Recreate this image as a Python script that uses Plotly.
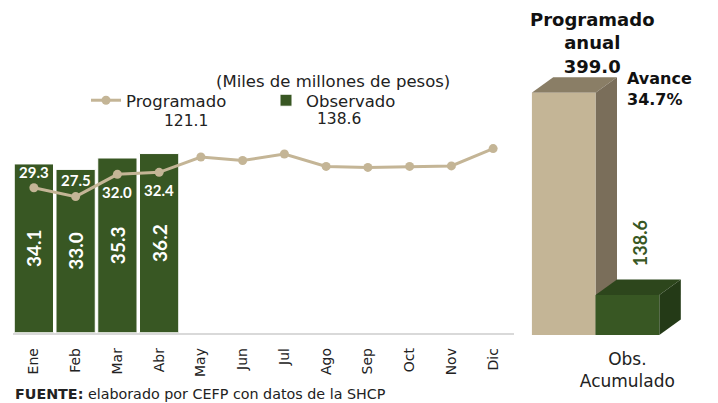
import plotly.graph_objects as go

# ---------------- data ----------------
meses = ["Ene", "Feb", "Mar", "Abr", "May", "Jun", "Jul", "Ago", "Sep", "Oct", "Nov", "Dic"]
programado = [29.3, 27.5, 32.0, 32.4, 35.5, 34.8, 36.1, 33.6, 33.4, 33.6, 33.7, 37.2]
observado = [34.1, 33.0, 35.3, 36.2]
prog_acum = 121.1
obs_acum = 138.6
prog_anual = 399.0
avance = "34.7%"
acum_labels = ["Programado anual", "Obs. Acumulado"]
acum_values = [prog_anual, obs_acum]

W, H = 718, 403
TAN = "#c4b596"
TAN_TOP = "#8a7e66"
TAN_SIDE = "#7a6e5a"
GREEN = "#385723"
GREEN_TOP = "#2d461c"
GREEN_SIDE = "#243a17"
FONT = "DejaVu Sans"
NUMFONT = "Lato"

# left subplot geometry
L_X0, L_X1 = 13, 514
L_BASE, L_TOP = 332.7, 110
L_YMAX = 45

# right subplot geometry
R_X0 = 531.7
R_CAT_PX = 63.8
R_XR = [-0.5, 1.9]
R_BASE = 335.0
R_YR = [87.1, 430.0]
R_PX_PER_UNIT = (335.0 - 92.7) / (399.0 - 87.1)
R_X1 = R_X0 + (R_XR[1] - R_XR[0]) * R_CAT_PX
R_TOPPX = R_BASE - (R_YR[1] - R_YR[0]) * R_PX_PER_UNIT
DEPTH_X = 21.5 / R_CAT_PX
DEPTH_Y = 15.5 / R_PX_PER_UNIT

fig = go.Figure()

fig.add_trace(go.Bar(
    x=meses[:len(observado)], y=observado, name="Observado",
    marker=dict(color=GREEN, line=dict(color="white", width=1)),
    text=[f"{v:.1f}" for v in observado], textposition="inside", textangle=-90,
    insidetextanchor="middle",
    textfont=dict(family=NUMFONT, size=19, color="white", weight="bold"),
    xaxis="x", yaxis="y", cliponaxis=False,
))
fig.add_trace(go.Scatter(
    x=meses, y=programado, name="Programado", mode="lines+markers",
    line=dict(color=TAN, width=3), marker=dict(color=TAN, size=9),
    xaxis="x", yaxis="y", cliponaxis=False,
))

# right: accumulated 3D-looking bars
fig.add_trace(go.Bar(
    x=[0, 1], y=acum_values, width=1, marker=dict(color=[TAN, GREEN], line=dict(width=0)),
    showlegend=False, xaxis="x2", yaxis="y2", hoverinfo="y",
))

shapes = []
def face(pts, color):
    path = "M " + " L ".join(f"{x},{y}" for x, y in pts) + " Z"
    shapes.append(dict(type="path", path=path, xref="x2", yref="y2",
                       fillcolor=color, line=dict(width=0), layer="below"))

for i, (val, ctop, cside) in enumerate([(prog_anual, TAN_TOP, TAN_SIDE), (obs_acum, GREEN_TOP, GREEN_SIDE)]):
    xl, xr = i - 0.5, i + 0.5
    base = R_YR[0]
    face([(xl, val), (xr, val), (xr + DEPTH_X, val + DEPTH_Y), (xl + DEPTH_X, val + DEPTH_Y)], ctop)
    face([(xr, base), (xr, val), (xr + DEPTH_X, val + DEPTH_Y), (xr + DEPTH_X, base + DEPTH_Y)], cside)

# labels of the first programmed months (above for Ene/Feb, below for Mar/Abr)
label_shift = [16, 17, -18, -18]
annotations = []
for m, v, s in zip(meses[:len(observado)], programado[:len(observado)], label_shift):
    annotations.append(dict(text=f"<b>{v:.1f}</b>", xref="x", yref="y", x=m, y=v, yshift=s,
                            yanchor="middle", showarrow=False,
                            font=dict(family=NUMFONT, size=15, color="white")))

annotations += [
    dict(text="(Miles de millones de pesos)", xref="paper", yref="paper",
         x=333 / W, y=1 - 81 / H, yanchor="middle", showarrow=False,
         font=dict(family=FONT, size=16.5, color="#222")),
    dict(text=f"{prog_acum:.1f}", xref="paper", yref="paper",
         x=162 / W, y=1 - 121 / H, yanchor="middle", showarrow=False,
         font=dict(family=FONT, size=15.5, color="#222")),
    dict(text=f"{obs_acum:.1f}", xref="paper", yref="paper",
         x=339 / W, y=1 - 119 / H, yanchor="middle", showarrow=False,
         font=dict(family=FONT, size=15.5, color="#222")),
    dict(text=f"<b>Programado<br>anual<br>{prog_anual:.1f}</b>", xref="x2", yref="y2",
         x=0.45, y=prog_anual, yanchor="bottom", yshift=14, showarrow=False,
         font=dict(family=FONT, size=18, color="#111")),
    dict(text=f"<b>Avance<br>{avance}</b>", xref="x2", yref="y2", align="left",
         x=0.96, xanchor="left", y=prog_anual, yanchor="middle", yshift=4, showarrow=False,
         font=dict(family=FONT, size=16, color="#111")),
    dict(text=f"<b>{obs_acum:.1f}</b>", xref="x2", yref="y2", textangle=-90,
         x=1.2, y=obs_acum, yanchor="bottom", yshift=27, showarrow=False,
         font=dict(family=NUMFONT, size=18, color=GREEN)),
    dict(text="<b>FUENTE:</b> elaborado por CEFP con datos de la SHCP", xref="paper", yref="paper",
         x=13 / W, y=1 - 394 / H, xanchor="left", yanchor="middle", showarrow=False,
         font=dict(family=FONT, size=14.3, color="#222")),
]

fig.update_layout(
    width=W, height=H, margin=dict(l=0, r=0, t=0, b=0),
    paper_bgcolor="white", plot_bgcolor="white",
    bargap=0.06, showlegend=True,
    legend=dict(orientation="h", x=86 / W, y=1 - 83 / H, xanchor="left", yanchor="top",
                font=dict(family=FONT, size=16.5, color="#222"), entrywidth=135,
                bgcolor="rgba(0,0,0,0)", traceorder="reversed"),
    xaxis=dict(domain=[L_X0 / W, L_X1 / W], type="category", categoryorder="array", categoryarray=meses,
               range=[-0.5, len(meses) - 0.5], tickangle=-90, showline=True, linecolor="#d9d9d9",
               linewidth=1.5, showgrid=False, ticks="", ticklabelstandoff=8,
               tickfont=dict(family=FONT, size=14, color="#222")),
    yaxis=dict(domain=[1 - L_BASE / H, 1 - L_TOP / H], range=[0, L_YMAX], visible=False),
    xaxis2=dict(domain=[R_X0 / W, R_X1 / W], range=R_XR, tickvals=[1], ticktext=["Obs.<br>Acumulado"],
                showline=False, showgrid=False, zeroline=False, ticks="", ticklabelstandoff=12,
                tickfont=dict(family=FONT, size=17, color="#222")),
    yaxis2=dict(domain=[1 - R_BASE / H, 1 - R_TOPPX / H], range=R_YR, visible=False, anchor="x2"),
    shapes=shapes, annotations=annotations,
)
fig.update_layout(xaxis2_anchor="y2")

fig.write_html("out.html", config={"displayModeBar": False},
               post_script="document.body.style.margin='0';document.body.style.overflow='hidden';")
